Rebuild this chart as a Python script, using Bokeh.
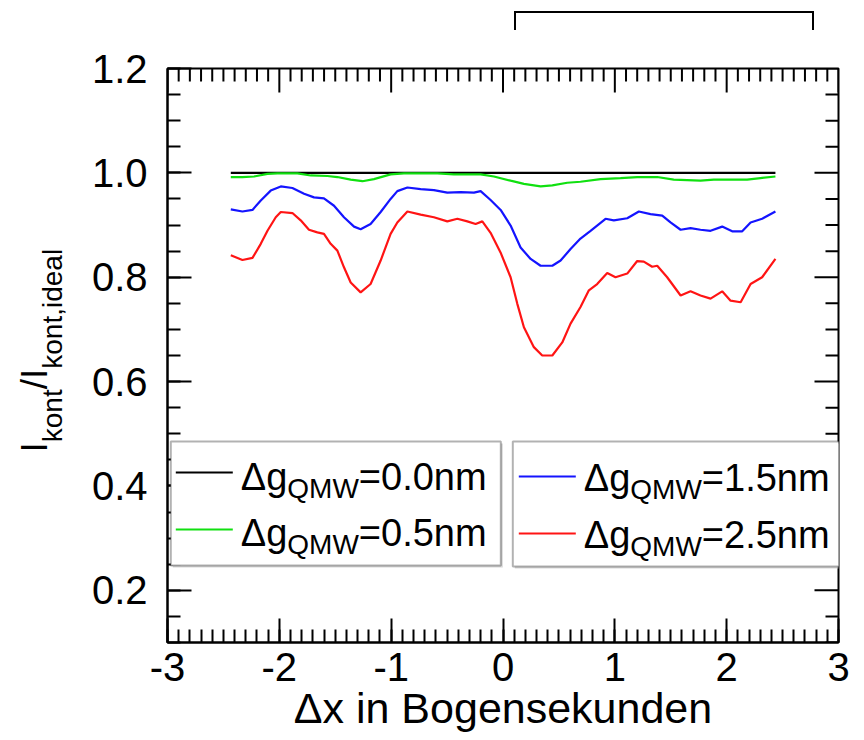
import math
from bokeh.plotting import figure
from bokeh.models import (LinearAxis, FixedTicker, NumeralTickFormatter,
                          Label, BoxAnnotation, Div, Range1d)
from bokeh.layouts import column, row
from bokeh.embed import file_html
from bokeh.resources import INLINE

# ---- data: normalised continuum intensity vs. offset (arcsec) ----
x_g00 = [-2.434, 2.436]
y_g00 = [1.0, 1.0]

x_g05 = [-2.434, -2.330, -2.226, -2.106, -2.017, -1.838, -1.719, -1.570, -1.481, -1.362,
         -1.257, -1.154, -1.005, -0.886, -0.587, -0.439, -0.200, -0.081, 0.068, 0.187,
         0.336, 0.441, 0.574, 0.693, 0.872, 1.051, 1.200, 1.379, 1.527, 1.766, 1.885,
         2.183, 2.302, 2.436]
y_g05 = [0.992, 0.992, 0.993, 0.998, 0.999, 0.999, 0.995, 0.994, 0.992, 0.987,
         0.984, 0.988, 0.997, 0.999, 0.999, 0.997, 0.997, 0.993, 0.985, 0.979,
         0.974, 0.976, 0.981, 0.983, 0.988, 0.990, 0.992, 0.992, 0.987, 0.985, 0.987,
         0.987, 0.990, 0.993]

x_g15 = [-2.434, -2.330, -2.240, -2.166, -2.077, -1.987, -1.883, -1.779, -1.690, -1.601,
         -1.511, -1.422, -1.332, -1.273, -1.184, -1.094, -1.005, -0.945, -0.855, -0.736,
         -0.618, -0.498, -0.379, -0.260, -0.200, -0.111, -0.021, 0.068, 0.157, 0.247,
         0.336, 0.441, 0.515, 0.604, 0.693, 0.783, 0.917, 0.991, 1.111, 1.215,
         1.319, 1.424, 1.498, 1.588, 1.677, 1.766, 1.856, 1.960, 2.049, 2.139,
         2.214, 2.317, 2.436]
y_g15 = [0.930, 0.926, 0.929, 0.947, 0.966, 0.974, 0.971, 0.960, 0.953, 0.951,
         0.937, 0.915, 0.897, 0.892, 0.902, 0.925, 0.950, 0.965, 0.972, 0.969,
         0.967, 0.962, 0.963, 0.962, 0.965, 0.948, 0.929, 0.899, 0.857, 0.835,
         0.822, 0.822, 0.832, 0.854, 0.874, 0.889, 0.912, 0.909, 0.913, 0.926,
         0.921, 0.918, 0.905, 0.891, 0.894, 0.891, 0.889, 0.897, 0.888, 0.888,
         0.905, 0.912, 0.926]

x_g25 = [-2.434, -2.330, -2.240, -2.166, -2.106, -2.032, -1.987, -1.883, -1.809, -1.735,
         -1.660, -1.601, -1.541, -1.481, -1.422, -1.362, -1.273, -1.184, -1.094, -1.005,
         -0.945, -0.855, -0.736, -0.618, -0.498, -0.408, -0.319, -0.245, -0.185, -0.111,
         -0.021, 0.068, 0.128, 0.187, 0.276, 0.351, 0.441, 0.530, 0.604, 0.693,
         0.768, 0.842, 0.932, 1.006, 1.111, 1.200, 1.259, 1.334, 1.379, 1.468,
         1.588, 1.677, 1.766, 1.856, 1.960, 2.035, 2.125, 2.214, 2.317, 2.436]
y_g25 = [0.842, 0.833, 0.837, 0.864, 0.889, 0.915, 0.925, 0.923, 0.909, 0.891,
         0.886, 0.883, 0.864, 0.851, 0.819, 0.790, 0.771, 0.787, 0.832, 0.883,
         0.905, 0.926, 0.920, 0.915, 0.907, 0.912, 0.907, 0.902, 0.907, 0.885,
         0.847, 0.800, 0.749, 0.704, 0.666, 0.650, 0.650, 0.675, 0.711, 0.743,
         0.775, 0.787, 0.808, 0.800, 0.807, 0.831, 0.830, 0.820, 0.822, 0.800,
         0.765, 0.773, 0.765, 0.759, 0.773, 0.755, 0.752, 0.787, 0.800, 0.835]

gap_labels = ["0.0", "0.5", "1.5", "2.5"]
colors = ["#000000", "#10e010", "#1414ff", "#ff1414"]
series = [(x_g00, y_g00), (x_g05, y_g05), (x_g15, y_g15), (x_g25, y_g25)]

x_major = [-3, -2, -1, 0, 1, 2, 3]
y_major = [0.2, 0.4, 0.6, 0.8, 1.0, 1.2]
x_minor = [round(-3 + 0.1 * i, 2) for i in range(61)]
y_minor = [round(0.1 + 0.05 * i, 3) for i in range(23)]

FONT = "Liberation Sans"
X0, X1, Y0, Y1 = -3, 3, 0.1, 1.2
FRAME_W, FRAME_H = 671, 574
MAJ_LEN, MIN_LEN = 24, 13

# approximate advance widths (em) for Liberation Sans
ADV = {'Δ': 0.668, 'g': 0.556, 'Q': 0.778, 'M': 0.833, 'W': 0.944, '=': 0.584,
       '0': 0.556, '1': 0.556, '2': 0.556, '5': 0.556, '.': 0.278, 'n': 0.556,
       'm': 0.833, 'I': 0.278, 'k': 0.5, 'o': 0.556, 't': 0.278, ',': 0.278,
       'i': 0.222, 'd': 0.556, 'e': 0.556, 'a': 0.556, 'l': 0.222, '/': 0.278}


def tw(s, size):
    return sum(ADV.get(c, 0.556) for c in s) * size


# offset between the requested anchor and the drawn alphabetic baseline
BASE_SHIFT = 0.34

p = figure(width=794, height=700, x_range=Range1d(X0, X1), y_range=Range1d(Y0, Y1),
           output_backend="svg", toolbar_location=None,
           x_axis_type=None, y_axis_type=None,
           min_border_left=97, min_border_right=26, min_border_top=28, min_border_bottom=98)
p.outline_line_color = "black"
p.outline_line_width = 2
p.background_fill_color = "white"
p.border_fill_color = "white"


def style_axis(ax):
    ax.major_tick_in = MAJ_LEN
    ax.major_tick_out = 0
    ax.minor_tick_in = MIN_LEN
    ax.minor_tick_out = 0
    ax.major_tick_line_width = 2
    ax.minor_tick_line_width = 2
    ax.axis_line_width = 2
    ax.major_tick_line_color = "black"
    ax.minor_tick_line_color = "black"
    ax.axis_line_color = "black"
    ax.major_label_text_font = FONT
    ax.major_label_text_font_size = "40px"
    ax.major_label_text_color = "black"
    return ax


xb = style_axis(LinearAxis(ticker=FixedTicker(ticks=x_major, minor_ticks=x_minor)))
xb.formatter = NumeralTickFormatter(format="0")
xb.major_label_standoff = 10
xb.axis_label = "Δx in Bogensekunden"
xb.axis_label_text_font = FONT
xb.axis_label_text_font_size = "43px"
xb.axis_label_text_font_style = "normal"
xb.axis_label_text_color = "black"
xb.axis_label_standoff = 0
p.add_layout(xb, "below")

yl = style_axis(LinearAxis(ticker=FixedTicker(ticks=y_major, minor_ticks=y_minor)))
yl.formatter = NumeralTickFormatter(format="0.0")
yl.major_label_standoff = 20
p.add_layout(yl, "left")

# mirrored inward ticks on the top and right edges of the frame
dy_maj = MAJ_LEN * (Y1 - Y0) / FRAME_H
dy_min = MIN_LEN * (Y1 - Y0) / FRAME_H
dx_maj = MAJ_LEN * (X1 - X0) / FRAME_W
dx_min = MIN_LEN * (X1 - X0) / FRAME_W
top_minor = [v for v in x_minor if v not in x_major]
right_minor = [v for v in y_minor if v not in y_major]
p.segment(x0=x_major, y0=[Y1] * len(x_major), x1=x_major, y1=[Y1 - dy_maj] * len(x_major),
          line_color="black", line_width=2)
p.segment(x0=top_minor, y0=[Y1] * len(top_minor), x1=top_minor, y1=[Y1 - dy_min] * len(top_minor),
          line_color="black", line_width=2)
p.segment(x0=[X1] * len(y_major), y0=y_major, x1=[X1 - dx_maj] * len(y_major), y1=y_major,
          line_color="black", line_width=2)
p.segment(x0=[X1] * len(right_minor), y0=right_minor, x1=[X1 - dx_min] * len(right_minor),
          y1=right_minor, line_color="black", line_width=2)

for (xs, ys), c in zip(series, colors):
    p.line(xs, ys, line_color=c, line_width=2.2)

# ---- legend boxes (frame-relative screen units) ----
MAIN_L, SUB_L = 38, 28
boxes = [dict(left=3.3, right=333.3, top=201, bottom=77),
         dict(left=345.3, right=673.3, top=201, bottom=76)]
for b in boxes:
    p.add_layout(BoxAnnotation(left=b["left"] + 2, right=b["right"] + 2,
                               top=b["top"] - 2, bottom=b["bottom"] - 2,
                               left_units="screen", right_units="screen",
                               top_units="screen", bottom_units="screen",
                               fill_color="#c8c8c8", fill_alpha=0.7, line_alpha=0))
    p.add_layout(BoxAnnotation(left=b["left"], right=b["right"], top=b["top"], bottom=b["bottom"],
                               left_units="screen", right_units="screen",
                               top_units="screen", bottom_units="screen",
                               fill_color="white", fill_alpha=1.0,
                               line_color="black", line_width=2))

rows = [  # sample x0, x1, sample y, text x, baseline y
    (8.3, 65.3, 170, 73.3, 153),
    (8.3, 65.3, 113, 73.3, 97),
    (351.3, 408.3, 166, 416.3, 152),
    (351.3, 408.3, 109, 416.3, 95),
]
for (x0, x1, sy, tx, by), gap, c in zip(rows, gap_labels, colors):
    p.add_layout(BoxAnnotation(left=x0, right=x1, top=sy + 1.1, bottom=sy - 1.1,
                               left_units="screen", right_units="screen",
                               top_units="screen", bottom_units="screen",
                               fill_color=c, fill_alpha=1.0, line_alpha=0))
    pieces = [("Δg", MAIN_L, 0), ("QMW", SUB_L, -9), ("=" + gap + "nm", MAIN_L, 0)]
    cx = tx
    for txt, size, dy in pieces:
        p.add_layout(Label(x=cx, y=by + dy + BASE_SHIFT * size, x_units="screen",
                           y_units="screen", text=txt,
                           text_font=FONT, text_font_size=f"{size}px", text_align="left",
                           text_baseline="alphabetic", text_color="black"))
        cx += tw(txt, size)

# ---- y-axis title with subscripts, on its own narrow canvas ----
ytitle = figure(width=70, height=700, x_range=Range1d(0, 70), y_range=Range1d(0, 700),
                output_backend="svg", toolbar_location=None,
                x_axis_type=None, y_axis_type=None,
                min_border_left=0, min_border_right=0, min_border_top=0, min_border_bottom=0)
ytitle.outline_line_color = None
ytitle.background_fill_color = "white"
ytitle.border_fill_color = "white"

MAIN_Y, SUB_Y = 37, 28
main_base, sub_base = 47, 62
pos = 190.0
for txt, sub in [("I", False), ("kont", True), ("/", False), ("I", False), ("kont,ideal", True)]:
    size = SUB_Y if sub else MAIN_Y
    base = sub_base if sub else main_base
    ytitle.add_layout(Label(x=base - BASE_SHIFT * size, y=pos, x_units="screen", y_units="screen",
                            text=txt, angle=math.pi / 2, text_font=FONT,
                            text_font_size=f"{size}px", text_align="left",
                            text_baseline="alphabetic", text_color="black"))
    pos += tw(txt, size)

# ---- partially visible box above the plot ----
top_box = Div(text=(
    '<div style="position:relative;width:864px;height:30px;overflow:hidden;background:#fff">'
    '<div style="position:absolute;left:514px;top:11px;width:300px;height:40px;'
    'border:2px solid #000;box-sizing:border-box"></div></div>'),
    width=864, height=40, margin=0)

layout = column(top_box, row(ytitle, p, spacing=0), spacing=0)
open("out.html", "w").write(file_html(layout, INLINE))
